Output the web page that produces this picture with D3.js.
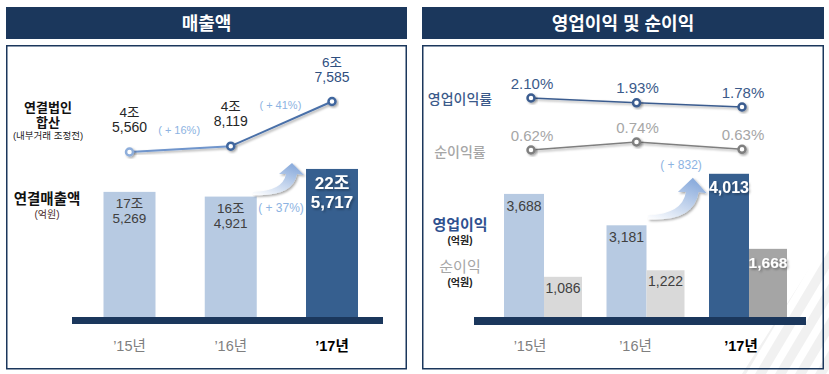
<!DOCTYPE html>
<html>
<head>
<meta charset="utf-8">
<script src="https://cdn.jsdelivr.net/npm/d3@7"></script>
<style>
  body { margin: 0; background: #fff; }
  svg text { font-family: "Liberation Sans", "Noto Sans CJK KR", sans-serif; }
</style>
</head>
<body>
<svg id="chart"></svg>
<script>
const width = 829;
const height = 374;

// data (억원, %)
const years = ["’15년", "’16년", "’17년"];
const salesTotal = [175269, 164921, 225717];   // 연결매출액
const salesGroup = [45560, 48119, 67585];      // 연결법인 합산
const salesGrowth = ["( + 16%)", "( + 41%)"];
const salesTotalGrowth = "( + 37%)";
const opProfit = [3688, 3181, 4013];
const netProfit = [1086, 1222, 1668];
const opMargin = [2.10, 1.93, 1.78];
const netMargin = [0.62, 0.74, 0.63];
const opGrowth = "( + 832)";

const navy = "#1b375c";
const lightBar = "#b7cae2";
const darkBar = "#365f8f";
const fmt = d3.format(",");
const jo = (v) => Math.floor(v / 10000) + "조";
const eok = (v) => fmt(v % 10000);

const svg = d3.select("#chart").attr("width", width).attr("height", height);
const defs = svg.append("defs");

const shadow = defs.append("filter").attr("id", "shadow")
  .attr("x", "-50%").attr("y", "-50%").attr("width", "200%").attr("height", "200%");
shadow.append("feDropShadow").attr("dx", 1.5).attr("dy", 1.5)
  .attr("stdDeviation", 1.2).attr("flood-color", "#000").attr("flood-opacity", 0.35);

const grad = defs.append("linearGradient").attr("id", "arrowGrad")
  .attr("x1", "0%").attr("y1", "100%").attr("x2", "60%").attr("y2", "0%");
grad.append("stop").attr("offset", "0%").attr("stop-color", "#ffffff");
grad.append("stop").attr("offset", "100%").attr("stop-color", "#8eaedd");

// decorative stripes (bottom right)
defs.append("clipPath").attr("id", "stripeClip")
  .append("polygon").attr("points", "742,374 829,238 829,374");
const stripes = svg.append("g").attr("clip-path", "url(#stripeClip)");
d3.range(6).forEach((i) => {
  const x = 735 + i * 20;
  stripes.append("polygon")
    .attr("points", `${x},374 ${x + 11},374 ${x + 91},240 ${x + 80},240`)
    .attr("fill", "#f1f1f1");
});

// headers + frames
function panel(x0, x1, title) {
  svg.append("rect").attr("x", x0).attr("y", 7).attr("width", x1 - x0).attr("height", 32)
    .attr("fill", navy);
  svg.append("text").attr("x", (x0 + x1) / 2).attr("y", 24)
    .attr("text-anchor", "middle").attr("dominant-baseline", "central")
    .attr("fill", "#fff").attr("font-size", 18).attr("font-weight", 700).text(title);
  svg.append("rect").attr("x", x0 + 0.75).attr("y", 45.75)
    .attr("width", x1 - x0 - 1.5).attr("height", 323)
    .attr("fill", "none").attr("stroke", navy).attr("stroke-width", 1.5);
}
panel(6, 407, "매출액");
panel(422, 824, "영업이익 및 순이익");

function label(x, y, txt, size, color, weight) {
  return svg.append("text").attr("x", x).attr("y", y)
    .attr("text-anchor", "middle").attr("dominant-baseline", "central")
    .attr("font-size", size).attr("fill", color).attr("font-weight", weight || 400)
    .text(txt);
}

// stacked lines in one text element: lines = [[txt, size, dy], ...]
function stack(x, y, lines, color, weight) {
  const t = svg.append("text").attr("x", x).attr("y", y)
    .attr("text-anchor", "middle").attr("dominant-baseline", "central")
    .attr("fill", color).attr("font-weight", weight || 400);
  lines.forEach(([txt, size, dy]) => {
    t.append("tspan").attr("x", x).attr("dy", dy).attr("font-size", size).text(txt);
  });
  return t;
}

function curvedArrow(x, y, sx, sy) {
  // tail at (x,y), head tip at roughly (x+39sx, y-31sy)
  const p = (dx, dy) => `${x + dx * sx},${y + dy * sy}`;
  const d = `M${p(0, -2)} Q${p(30, -3)} ${p(33, -20)} L${p(26, -20)} L${p(39, -31)} ` +
    `L${p(51, -19)} L${p(44, -20)} Q${p(40, 3)} ${p(0, 1)} Z`;
  svg.append("path").attr("d", d).attr("fill", "url(#arrowGrad)").attr("filter", "url(#shadow)");
}

// ---------- left: 매출액 ----------
const xL = d3.scalePoint().domain(years).range([129.5, 332]);
const barW = 52;
const yBarL = d3.scaleLinear().domain([-100000, 230000]).range([317, 167]);
const yLineL = d3.scaleLinear().domain([45560, 67585]).range([152, 101.5]);

svg.append("g").selectAll("rect").data(salesTotal).join("rect")
  .attr("x", (d, i) => xL(years[i]) - barW / 2)
  .attr("y", (d) => yBarL(d))
  .attr("width", barW)
  .attr("height", (d) => 317 - yBarL(d) + 2)
  .attr("fill", (d, i) => (i === 2 ? darkBar : lightBar));

svg.append("rect").attr("x", 72).attr("y", 317).attr("width", 311).attr("height", 7).attr("fill", navy);

salesTotal.forEach((v, i) => {
  const top = yBarL(v);
  if (i === 2) {
    stack(xL(years[i]), top + 14, [[jo(v), 17, 0], [eok(v), 17, 19]], "#fff", 700)
      .attr("filter", "url(#shadow)");
  } else {
    stack(xL(years[i]), top + 11, [[jo(v), 13.5, 0], [eok(v), 13.5, 15]], "#404040");
  }
});

// line 연결법인 합산
svg.append("g").selectAll("line").data(d3.pairs(salesGroup.map((v, i) => [xL(years[i]), yLineL(v)])))
  .join("line")
  .attr("x1", (d) => d[0][0]).attr("y1", (d) => d[0][1])
  .attr("x2", (d) => d[1][0]).attr("y2", (d) => d[1][1])
  .attr("stroke", (d, i) => (i === 0 ? "#6f95cc" : "#4a70a8")).attr("stroke-width", 2)
  .attr("filter", "url(#shadow)");
svg.append("g").selectAll("circle").data(salesGroup).join("circle")
  .attr("cx", (d, i) => xL(years[i])).attr("cy", (d) => yLineL(d)).attr("r", 3.5)
  .attr("fill", "#fff").attr("stroke", (d, i) => (i === 0 ? "#8eaedb" : "#3f669e"))
  .attr("stroke-width", 2.5).attr("filter", "url(#shadow)");
salesGroup.forEach((v, i) => {
  const c = i === 2 ? "#2f4f7f" : "#262626";
  stack(xL(years[i]), yLineL(v) - 40, [[jo(v), 13.5, 0], [eok(v), 14, 15]], c);
});
salesGrowth.forEach((g, i) => {
  const mx = (xL(years[i]) + xL(years[i + 1])) / 2;
  const my = (yLineL(salesGroup[i]) + yLineL(salesGroup[i + 1])) / 2;
  label(mx - 1, my - 19, g, 11, "#8db3e2");
});

curvedArrow(253, 194, 1, 1);
label(281, 208, salesTotalGrowth, 12, "#8db3e2");

stack(48, 107, [["연결법인", 13, 0], ["합산", 13, 15]], "#111", 700);
label(48, 135, "(내부거래 조정전)", 9.5, "#222");
stack(47, 199, [["연결매출액", 14.5, 0], ["(억원)", 10, 15]], "#111", 700)
  .select("tspan:last-child").attr("font-weight", 400).attr("fill", "#4a2a2a");

years.forEach((y, i) => {
  label(xL(y), 346, y, 14.5, i === 2 ? "#000" : "#7f7f7f", i === 2 ? 700 : 400);
});

// ---------- right: 영업이익 및 순이익 ----------
const xG = d3.scalePoint().domain(years).range([544, 749]);
const xLineR = d3.scalePoint().domain(years).range([531, 742]);
const yOp = d3.scaleLinear().domain([1700, 4100]).range([317, 168.4]);
const yNet = d3.scaleLinear().domain([250, 1700]).range([317, 247.3]);
const yOpM = d3.scaleLinear().domain([1.78, 2.10]).range([107, 98]);
const yNetM = d3.scaleLinear().domain([0.62, 0.74]).range([150, 142]);

svg.append("g").selectAll("rect").data(opProfit).join("rect")
  .attr("x", (d, i) => xG(years[i]) - 40)
  .attr("y", (d) => yOp(d)).attr("width", 40)
  .attr("height", (d) => 317 - yOp(d) + 2)
  .attr("fill", (d, i) => (i === 2 ? darkBar : lightBar));
svg.append("g").selectAll("rect").data(netProfit).join("rect")
  .attr("x", (d, i) => xG(years[i]))
  .attr("y", (d) => yNet(d)).attr("width", 38)
  .attr("height", (d) => 317 - yNet(d) + 2)
  .attr("fill", (d, i) => (i === 2 ? "#a5a5a5" : "#d9d9d9"));

svg.append("rect").attr("x", 474).attr("y", 317).attr("width", 332).attr("height", 8).attr("fill", navy);

opProfit.forEach((v, i) => {
  const last = i === 2;
  label(xG(years[i]) - 20, yOp(v) + (last ? 14 : 12), fmt(v), last ? 16 : 14,
    last ? "#fff" : "#404040", last ? 700 : 400).attr("filter", last ? "url(#shadow)" : null);
});
netProfit.forEach((v, i) => {
  const last = i === 2;
  label(xG(years[i]) + 19, yNet(v) + (last ? 14 : 11), fmt(v), last ? 15.5 : 14,
    last ? "#fff" : "#404040", last ? 700 : 400).attr("filter", last ? "url(#shadow)" : null);
});

function marginLine(data, yS, color, textColor) {
  svg.append("path").datum(data)
    .attr("d", d3.line().x((d, i) => xLineR(years[i])).y((d) => yS(d)))
    .attr("fill", "none").attr("stroke", color).attr("stroke-width", 1.5)
    .attr("filter", "url(#shadow)");
  svg.append("g").selectAll("circle").data(data).join("circle")
    .attr("cx", (d, i) => xLineR(years[i])).attr("cy", (d) => yS(d)).attr("r", 3.5)
    .attr("fill", "#fff").attr("stroke", color).attr("stroke-width", 2.5)
    .attr("filter", "url(#shadow)");
  data.forEach((v, i) => {
    label(xLineR(years[i]) + 1, yS(v) - 15, v.toFixed(2) + "%", 15, textColor);
  });
}
marginLine(opMargin, yOpM, "#3b5c8f", "#3b5a8a");
marginLine(netMargin, yNetM, "#7f7f7f", "#a6a6a6");

curvedArrow(648, 218, 1.15, 1.3);
label(681, 165, opGrowth, 12, "#8db3e2");

label(460, 99, "영업이익률", 14, "#3b5a8a", 500);
label(460, 152, "순이익률", 14, "#a6a6a6", 500);
stack(460, 224, [["영업이익", 15, 0], ["(억원)", 10, 16]], "#2f5190", 700)
  .select("tspan:last-child").attr("fill", "#222");
stack(460, 266, [["순이익", 15, 0], ["(억원)", 10, 16]], "#a6a6a6", 400)
  .select("tspan:last-child").attr("fill", "#222").attr("font-weight", 700);

years.forEach((y, i) => {
  label(xLineR(y) - 1, 346, y, 14.5, i === 2 ? "#000" : "#7f7f7f", i === 2 ? 700 : 400);
});
</script>
</body>
</html>
